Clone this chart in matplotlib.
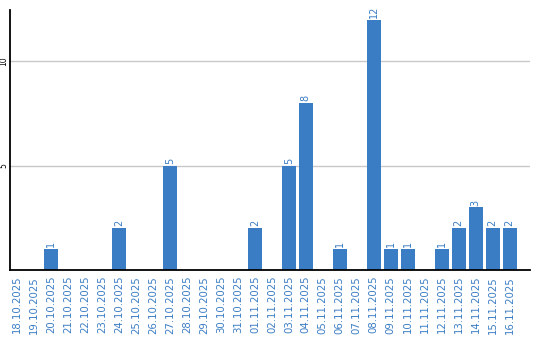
import matplotlib
matplotlib.use("Agg")
import matplotlib.pyplot as plt
import numpy as np

# daily counts, 18.10.2025 - 16.11.2025
dates = [
    "18.10.2025", "19.10.2025", "20.10.2025", "21.10.2025", "22.10.2025",
    "23.10.2025", "24.10.2025", "25.10.2025", "26.10.2025", "27.10.2025",
    "28.10.2025", "29.10.2025", "30.10.2025", "31.10.2025", "01.11.2025",
    "02.11.2025", "03.11.2025", "04.11.2025", "05.11.2025", "06.11.2025",
    "07.11.2025", "08.11.2025", "09.11.2025", "10.11.2025", "11.11.2025",
    "12.11.2025", "13.11.2025", "14.11.2025", "15.11.2025", "16.11.2025",
]
counts = [0, 0, 1, 0, 0, 0, 2, 0, 0, 5,
          0, 0, 0, 0, 2, 0, 5, 8, 0, 1,
          0, 12, 1, 1, 0, 1, 2, 3, 2, 2]
y_ticks = [5, 10]

blue = "#3b7dc4"

fig = plt.figure(figsize=(5.4, 3.4), dpi=100)
ax = fig.add_axes([0.0194, 0.207, 0.962, 0.764])

x = np.arange(len(dates))
ax.bar(x, counts, width=0.82, color=blue, zorder=2)

# value labels above non-empty bars
for xi, c in zip(x, counts):
    if c > 0:
        ax.text(xi, c + 0.08, str(c), rotation=90, ha="center", va="bottom",
                color=blue, fontsize=7)

ax.set_xlim(-0.4, 30.2)
ax.set_ylim(0, 12.48)
ax.set_xticks(x)
ax.set_xticklabels(dates, rotation=90, color=blue, fontsize=7.3)
ax.set_yticks(y_ticks)
ax.set_yticklabels([str(t) for t in y_ticks], rotation=90, fontsize=5.5,
                   va="center")
ax.tick_params(axis="both", length=0)
ax.tick_params(axis="x", pad=4.5)
ax.tick_params(axis="y", pad=1.5)

ax.grid(axis="y", color="#c8c8c8", linewidth=1, zorder=0)
ax.spines["top"].set_visible(False)
ax.spines["right"].set_visible(False)
ax.spines["left"].set_linewidth(1.3)
ax.spines["bottom"].set_linewidth(1.3)

fig.savefig("out.png", dpi=100)
